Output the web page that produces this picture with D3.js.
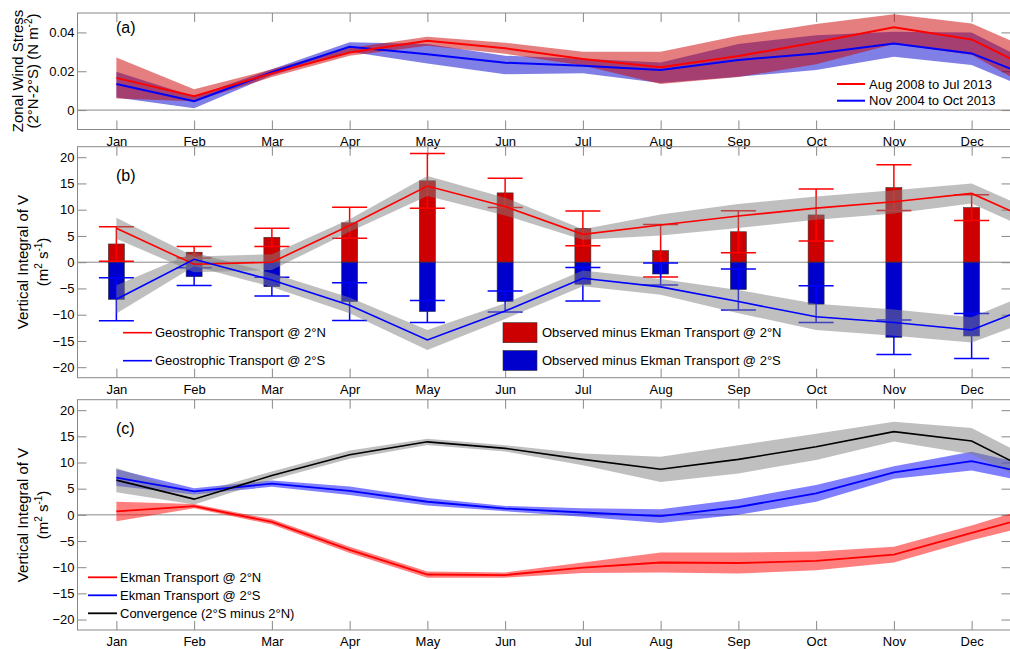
<!DOCTYPE html>
<html>
<head>
<meta charset="utf-8">
<title>Zonal wind stress and meridional transport</title>
<style>
  body { margin: 0; background: #fff; }
  svg text { font-family: "Liberation Sans", Arial, sans-serif; fill: #000; }
  .tick line { stroke: #888; }
  .box { fill: none; stroke: #888; stroke-width: 1; }
</style>
</head>
<body>
<div id="chart"></div>
<script src="https://d3js.org/d3.v7.min.js"></script>
<script>
// month labels
var months = ["Jan","Feb","Mar","Apr","May","Jun","Jul","Aug","Sep","Oct","Nov","Dec"];

// (a) zonal wind stress, N m-2
var tauRed    = [0.0166, 0.0072, 0.0189, 0.0297, 0.0357, 0.0318, 0.0263, 0.0221, 0.0278, 0.0349, 0.0427, 0.0364];
var tauRedHi  = [0.0271, 0.0107, 0.0210, 0.0320, 0.0378, 0.0347, 0.0300, 0.0300, 0.0383, 0.0443, 0.0494, 0.0446];
var tauRedLo  = [0.0060, 0.0045, 0.0170, 0.0280, 0.0331, 0.0290, 0.0230, 0.0134, 0.0170, 0.0236, 0.0340, 0.0285];
var tauBlue   = [0.0134, 0.0046, 0.0195, 0.0326, 0.0287, 0.0244, 0.0228, 0.0206, 0.0258, 0.0292, 0.0343, 0.0292];
var tauBlueHi = [0.0197, 0.0070, 0.0210, 0.0349, 0.0340, 0.0280, 0.0265, 0.0245, 0.0340, 0.0386, 0.0403, 0.0400];
var tauBlueLo = [0.0065, 0.0009, 0.0180, 0.0300, 0.0240, 0.0185, 0.0190, 0.0140, 0.0172, 0.0206, 0.0275, 0.0232];

// (b) geostrophic transport (lines) and observed minus Ekman (bars), m2 s-1
var geoN    = [6.46, -0.4, 0.0, 7.0, 14.5, 10.6, 5.3, 7.1, 8.8, 10.3, 11.5, 13.1];
var geoNerr = [2.0, 1.5, 1.5, 1.2, 1.9, 1.7, 1.0, 2.0, 2.3, 2.2, 2.2, 1.9];
var geoS    = [-7.07, 0.55, -3.4, -8.2, -14.8, -9.3, -3.07, -4.7, -7.5, -10.4, -11.5, -12.9];
var geoSerr = [2.7, 1.3, 1.3, 1.5, 1.9, 1.5, 1.5, 1.5, 2.2, 2.5, 2.5, 2.4];
var obsN    = [3.47, 1.9, 4.74, 7.5, 15.5, 13.2, 6.45, 2.2, 5.8, 9.0, 14.2, 10.4];
var obsNerr = [3.27, 1.1, 1.75, 2.95, 5.2, 2.8, 3.3, 5.0, 4.0, 4.95, 4.35, 2.45];
var obsS    = [-7.07, -2.76, -4.66, -7.5, -9.4, -7.5, -4.2, -2.25, -5.2, -8.0, -14.3, -14.06];
var obsSerr = [4.1, 1.7, 1.8, 3.6, 2.1, 2.0, 3.2, 2.1, 3.9, 3.5, 3.3, 4.3];

// (c) Ekman transports and convergence, m2 s-1
var ekN     = [0.65, 1.65, -1.35, -6.7, -11.4, -11.5, -10.1, -9.1, -9.2, -8.8, -7.6, -3.45];
var ekNerr  = [1.85, 0.4, 0.5, 0.6, 0.6, 0.5, 1.0, 1.9, 2.0, 1.8, 1.5, 1.4];
var ekS     = [7.1, 4.5, 5.95, 4.6, 2.5, 1.2, 0.45, -0.25, 1.5, 4.1, 8.1, 10.25];
var ekSerr  = [1.6, 0.6, 0.6, 0.8, 0.7, 0.5, 0.8, 1.3, 1.5, 1.6, 1.2, 1.8];
var conv    = [6.63, 3.0, 7.5, 11.5, 13.95, 12.7, 10.6, 8.7, 10.6, 13.0, 15.9, 14.1];
var convErr = [2.3, 1.0, 0.8, 0.8, 0.6, 0.6, 1.1, 2.4, 2.7, 2.5, 1.9, 2.5];

var tauTicks = [0, 0.02, 0.04];
var vTicks = [-20, -15, -10, -5, 0, 5, 10, 15, 20];

var width = 1010, height = 649;
var svg = d3.select("#chart").append("svg")
  .attr("width", width).attr("height", height);

var x = d3.scaleLinear().domain([0.5, 12.5]).range([77.5, 1010.5]);

// wrap the year round: Jan again at x = 13, clipped by the axes
function cyc(a) { return a.concat([a[0]]); }
function pts(v) { return cyc(v).map(function(d, i) { return {m: i + 1, v: d}; }); }
function band(v, lo, hi) {
  var L = cyc(lo), H = cyc(hi);
  return cyc(v).map(function(d, i) { return {m: i + 1, lo: L[i], hi: H[i]}; });
}
function pm(v, e) {
  return [v.map(function(d, i) { return d - e[i]; }), v.map(function(d, i) { return d + e[i]; })];
}

function makePanel(id, y0, y1, dom, ticks, fmt) {
  var y = d3.scaleLinear().domain(dom).range([y1, y0]);
  var g = svg.append("g");
  svg.append("clipPath").attr("id", "clip" + id)
    .append("rect").attr("x", x.range()[0]).attr("y", y0)
    .attr("width", x.range()[1] - x.range()[0]).attr("height", y1 - y0);

  var axB = g.append("g").attr("transform", "translate(0," + y1 + ")")
    .call(d3.axisBottom(x).tickValues(d3.range(1, 13)).tickFormat(function(i) { return months[i - 1]; })
      .tickSizeInner(-9).tickSizeOuter(0).tickPadding(7));
  g.append("g").attr("transform", "translate(0," + y0 + ")")
    .call(d3.axisTop(x).tickValues(d3.range(1, 13)).tickFormat("").tickSizeInner(-9).tickSizeOuter(0));
  g.append("g").attr("transform", "translate(" + x.range()[0] + ",0)")
    .call(d3.axisLeft(y).tickValues(ticks).tickFormat(fmt).tickSizeInner(-9).tickSizeOuter(0).tickPadding(3));
  g.append("g").attr("transform", "translate(" + x.range()[1] + ",0)")
    .call(d3.axisRight(y).tickValues(ticks).tickFormat("").tickSizeInner(-9).tickSizeOuter(0));
  g.selectAll(".domain").remove();
  g.selectAll(".tick text").style("font-size", "13px").attr("fill", "#000");

  var plot = svg.append("g").attr("clip-path", "url(#clip" + id + ")");
  plot.append("line")
    .attr("x1", x.range()[0]).attr("x2", x.range()[1])
    .attr("y1", y(0)).attr("y2", y(0))
    .attr("stroke", "#888").attr("stroke-width", 1);

  svg.append("rect").attr("class", "box")
    .attr("x", x.range()[0]).attr("y", y0)
    .attr("width", x.range()[1] - x.range()[0]).attr("height", y1 - y0);
  return {y: y, plot: plot};
}

function drawBand(p, data, fill, op) {
  var area = d3.area().x(function(d) { return x(d.m); })
    .y0(function(d) { return p.y(d.lo); }).y1(function(d) { return p.y(d.hi); });
  p.plot.append("path").datum(data).attr("d", area)
    .attr("fill", fill).attr("fill-opacity", op).attr("stroke", "none");
}
function drawLine(p, data, color, w) {
  var line = d3.line().x(function(d) { return x(d.m); }).y(function(d) { return p.y(d.v); });
  p.plot.append("path").datum(data).attr("d", line)
    .attr("fill", "none").attr("stroke", color).attr("stroke-width", w);
}

function yLabel(cx, cy, l1, l2x, parts) {
  svg.append("text").attr("transform", "translate(" + cx + "," + cy + ") rotate(-90)")
    .attr("text-anchor", "middle").style("font-size", "15px").text(l1);
  var t = svg.append("text").attr("transform", "translate(" + l2x + "," + cy + ") rotate(-90)")
    .attr("text-anchor", "middle").style("font-size", "15px");
  parts.forEach(function(p) {
    var s = t.append("tspan").text(p[0]);
    if (p[1] === "sup") s.attr("dy", -6).style("font-size", "10px");
    if (p[1] === "down") s.attr("dy", 6);
  });
}

// ---------- (a) ----------
var pa = makePanel("a", 13, 129.5, [-0.01, 0.05], tauTicks, function(d) { return d === 0 ? "0" : d3.format(".2f")(d); });
drawBand(pa, band(tauBlue, tauBlueLo, tauBlueHi), "#0000cc", 0.5);
drawBand(pa, band(tauRed, tauRedLo, tauRedHi), "#cc0000", 0.5);
drawLine(pa, pts(tauBlue), "#0000ff", 2);
drawLine(pa, pts(tauRed), "#ff0000", 2);
svg.append("text").attr("x", 116).attr("y", 33).style("font-size", "16px").text("(a)");
yLabel(23, 71, "Zonal Wind Stress", 38, [["(2°N-2°S) (N m"], ["-2", "sup"], [")", "down"]]);

var legA = [["Aug 2008 to Jul 2013", "#ff0000", 84], ["Nov 2004 to Oct 2013", "#0000ff", 100.7]];
legA.forEach(function(l) {
  svg.append("line").attr("x1", 837).attr("x2", 865).attr("y1", l[2]).attr("y2", l[2])
    .attr("stroke", l[1]).attr("stroke-width", 2);
  svg.append("text").attr("x", 869).attr("y", l[2]).attr("dy", "0.35em")
    .style("font-size", "13px").text(l[0]);
});

// ---------- (b) ----------
var pb = makePanel("b", 146.7, 377.7, [-22, 22], vTicks, d3.format("d"));
var bw = 16, cap = 35;
var idx = d3.range(12);
pb.plot.selectAll("rect.n").data(idx).enter().append("rect")
  .attr("x", function(i) { return x(i + 1) - bw / 2; })
  .attr("y", function(i) { return pb.y(obsN[i]); })
  .attr("width", bw).attr("height", function(i) { return pb.y(0) - pb.y(obsN[i]); })
  .attr("fill", "#cc0000").attr("stroke", "#333").attr("stroke-width", 0.6);
pb.plot.selectAll("rect.s").data(idx).enter().append("rect")
  .attr("x", function(i) { return x(i + 1) - bw / 2; })
  .attr("y", pb.y(0))
  .attr("width", bw).attr("height", function(i) { return pb.y(obsS[i]) - pb.y(0); })
  .attr("fill", "#0000cc").attr("stroke", "#333").attr("stroke-width", 0.6);

function errBars(vals, errs, color) {
  var eg = pb.plot.append("g").attr("stroke", color).attr("stroke-width", 1.5);
  idx.forEach(function(i) {
    var cx = x(i + 1), lo = pb.y(vals[i] - errs[i]), hi = pb.y(vals[i] + errs[i]);
    eg.append("line").attr("x1", cx).attr("x2", cx).attr("y1", lo).attr("y2", hi);
    eg.append("line").attr("x1", cx - cap / 2).attr("x2", cx + cap / 2).attr("y1", lo).attr("y2", lo);
    eg.append("line").attr("x1", cx - cap / 2).attr("x2", cx + cap / 2).attr("y1", hi).attr("y2", hi);
  });
}
errBars(obsN, obsNerr, "#ff0000");
errBars(obsS, obsSerr, "#0000ff");

var gn = pm(geoN, geoNerr), gs = pm(geoS, geoSerr);
drawBand(pb, band(geoN, gn[0], gn[1]), "#808080", 0.5);
drawBand(pb, band(geoS, gs[0], gs[1]), "#808080", 0.5);
drawLine(pb, pts(geoN), "#ff0000", 1.6);
drawLine(pb, pts(geoS), "#0000ff", 1.6);
svg.append("text").attr("x", 116).attr("y", 181).style("font-size", "16px").text("(b)");
yLabel(28, 262, "Vertical Integral of V", 48, [["(m"], ["2", "sup"], [" s", "down"], ["-1", "sup"], [")", "down"]]);

var legB = [["Geostrophic Transport @ 2°N", "#ff0000", 332.7], ["Geostrophic Transport @ 2°S", "#0000ff", 360.7]];
legB.forEach(function(l) {
  svg.append("line").attr("x1", 123).attr("x2", 152).attr("y1", l[2]).attr("y2", l[2])
    .attr("stroke", l[1]).attr("stroke-width", 1.6);
  svg.append("text").attr("x", 155).attr("y", l[2]).attr("dy", "0.35em")
    .style("font-size", "13px").text(l[0]);
});
var legB2 = [["Observed minus Ekman Transport @ 2°N", "#cc0000", 322.7], ["Observed minus Ekman Transport @ 2°S", "#0000cc", 350.5]];
legB2.forEach(function(l) {
  svg.append("rect").attr("x", 503).attr("y", l[2]).attr("width", 34).attr("height", 20)
    .attr("fill", l[1]).attr("stroke", "#333").attr("stroke-width", 0.6);
  svg.append("text").attr("x", 542).attr("y", l[2] + 10).attr("dy", "0.35em")
    .style("font-size", "13px").text(l[0]);
});

// ---------- (c) ----------
var pc = makePanel("c", 399.7, 630, [-22, 22], vTicks, d3.format("d"));
var en = pm(ekN, ekNerr), es = pm(ekS, ekSerr), cv = pm(conv, convErr);
drawBand(pc, band(ekN, en[0], en[1]), "#ff0000", 0.5);
drawBand(pc, band(ekS, es[0], es[1]), "#0000ff", 0.5);
drawBand(pc, band(conv, cv[0], cv[1]), "#808080", 0.5);
drawLine(pc, pts(ekN), "#ff0000", 1.8);
drawLine(pc, pts(ekS), "#0000ff", 1.8);
drawLine(pc, pts(conv), "#000000", 1.6);
svg.append("text").attr("x", 116).attr("y", 434).style("font-size", "16px").text("(c)");
yLabel(28, 515, "Vertical Integral of V", 48, [["(m"], ["2", "sup"], [" s", "down"], ["-1", "sup"], [")", "down"]]);

var legC = [["Ekman Transport @ 2°N", "#ff0000", 577.3], ["Ekman Transport @ 2°S", "#0000ff", 595.3], ["Convergence (2°S minus 2°N)", "#000000", 613.3]];
legC.forEach(function(l) {
  svg.append("line").attr("x1", 88).attr("x2", 117).attr("y1", l[2]).attr("y2", l[2])
    .attr("stroke", l[1]).attr("stroke-width", 1.8);
  svg.append("text").attr("x", 120).attr("y", l[2]).attr("dy", "0.35em")
    .style("font-size", "13px").text(l[0]);
});
</script>
</body>
</html>
